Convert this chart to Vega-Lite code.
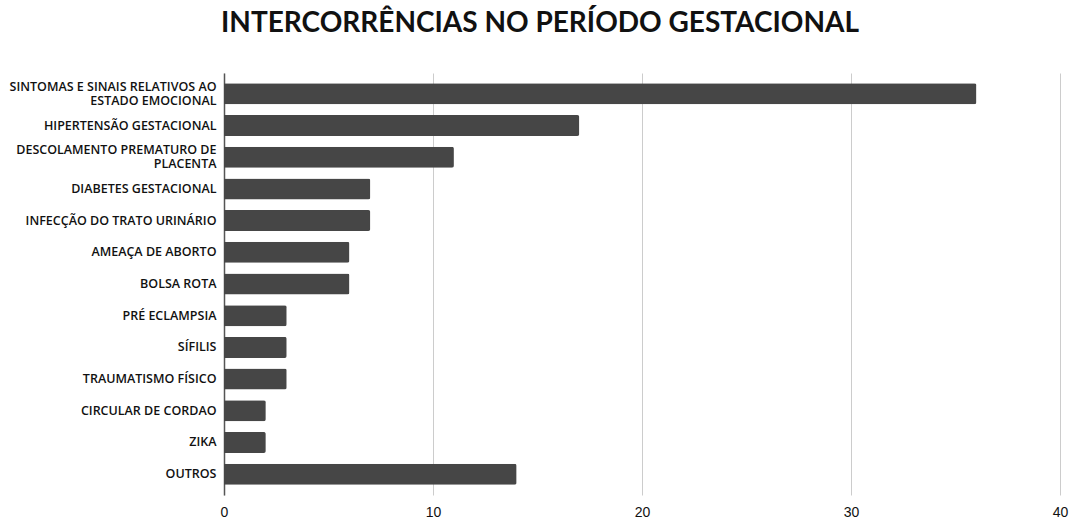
{
  "$schema": "https://vega.github.io/schema/vega-lite/v6.json",
  "autosize": "none",
  "width": 836,
  "height": 422,
  "padding": {"left": 224, "top": 73, "right": 16, "bottom": 25},
  "background": "white",
  "title": {
    "text": "INTERCORRÊNCIAS NO PERÍODO GESTACIONAL",
    "anchor": "middle",
    "frame": "group",
    "dx": -102,
    "offset": 35,
    "font": "Lato",
    "fontWeight": "bold",
    "fontSize": 28,
    "color": "#111111"
  },
  "data": {
    "values": [
      {"categoria": "SINTOMAS E SINAIS RELATIVOS AO ESTADO EMOCIONAL", "valor": 36},
      {"categoria": "HIPERTENSÃO GESTACIONAL", "valor": 17},
      {"categoria": "DESCOLAMENTO PREMATURO DE PLACENTA", "valor": 11},
      {"categoria": "DIABETES GESTACIONAL", "valor": 7},
      {"categoria": "INFECÇÃO DO TRATO URINÁRIO", "valor": 7},
      {"categoria": "AMEAÇA DE ABORTO", "valor": 6},
      {"categoria": "BOLSA ROTA", "valor": 6},
      {"categoria": "PRÉ ECLAMPSIA", "valor": 3},
      {"categoria": "SÍFILIS", "valor": 3},
      {"categoria": "TRAUMATISMO FÍSICO", "valor": 3},
      {"categoria": "CIRCULAR DE CORDAO", "valor": 2},
      {"categoria": "ZIKA", "valor": 2},
      {"categoria": "OUTROS", "valor": 14}
    ]
  },
  "mark": {"type": "bar", "color": "#464646", "cornerRadiusEnd": 2},
  "encoding": {
    "y": {
      "field": "categoria",
      "type": "nominal",
      "sort": null,
      "scale": {"paddingInner": 0.337, "paddingOuter": 0.325},
      "axis": {
        "title": null,
        "ticks": false,
        "domainColor": "#555555",
        "domainWidth": 1.5,
        "labelFont": "Open Sans",
        "labelFontSize": 12.5,
        "labelFontWeight": 600,
        "labelColor": "#111111",
        "labelPadding": 8,
        "labelLimit": 300,
        "labelLineHeight": 14,
        "labelOffset": {
          "condition": {"test": "datum.value == 'SINTOMAS E SINAIS RELATIVOS AO ESTADO EMOCIONAL' || datum.value == 'DESCOLAMENTO PREMATURO DE PLACENTA'", "value": -7},
          "value": 0
        },
        "labelExpr": "datum.value == 'SINTOMAS E SINAIS RELATIVOS AO ESTADO EMOCIONAL' ? ['SINTOMAS E SINAIS RELATIVOS AO', 'ESTADO EMOCIONAL'] : datum.value == 'DESCOLAMENTO PREMATURO DE PLACENTA' ? ['DESCOLAMENTO PREMATURO DE', 'PLACENTA'] : datum.value"
      }
    },
    "x": {
      "field": "valor",
      "type": "quantitative",
      "scale": {"domain": [0, 40], "nice": false},
      "axis": {
        "title": null,
        "values": [0, 10, 20, 30, 40],
        "domain": false,
        "ticks": false,
        "grid": true,
        "gridColor": "#cccccc",
        "gridWidth": 1,
        "labelFont": "Liberation Sans",
        "labelFontSize": 14,
        "labelColor": "#111111",
        "labelPadding": 10,
        "labelFlush": false
      }
    }
  },
  "config": {"view": {"stroke": null}}
}
